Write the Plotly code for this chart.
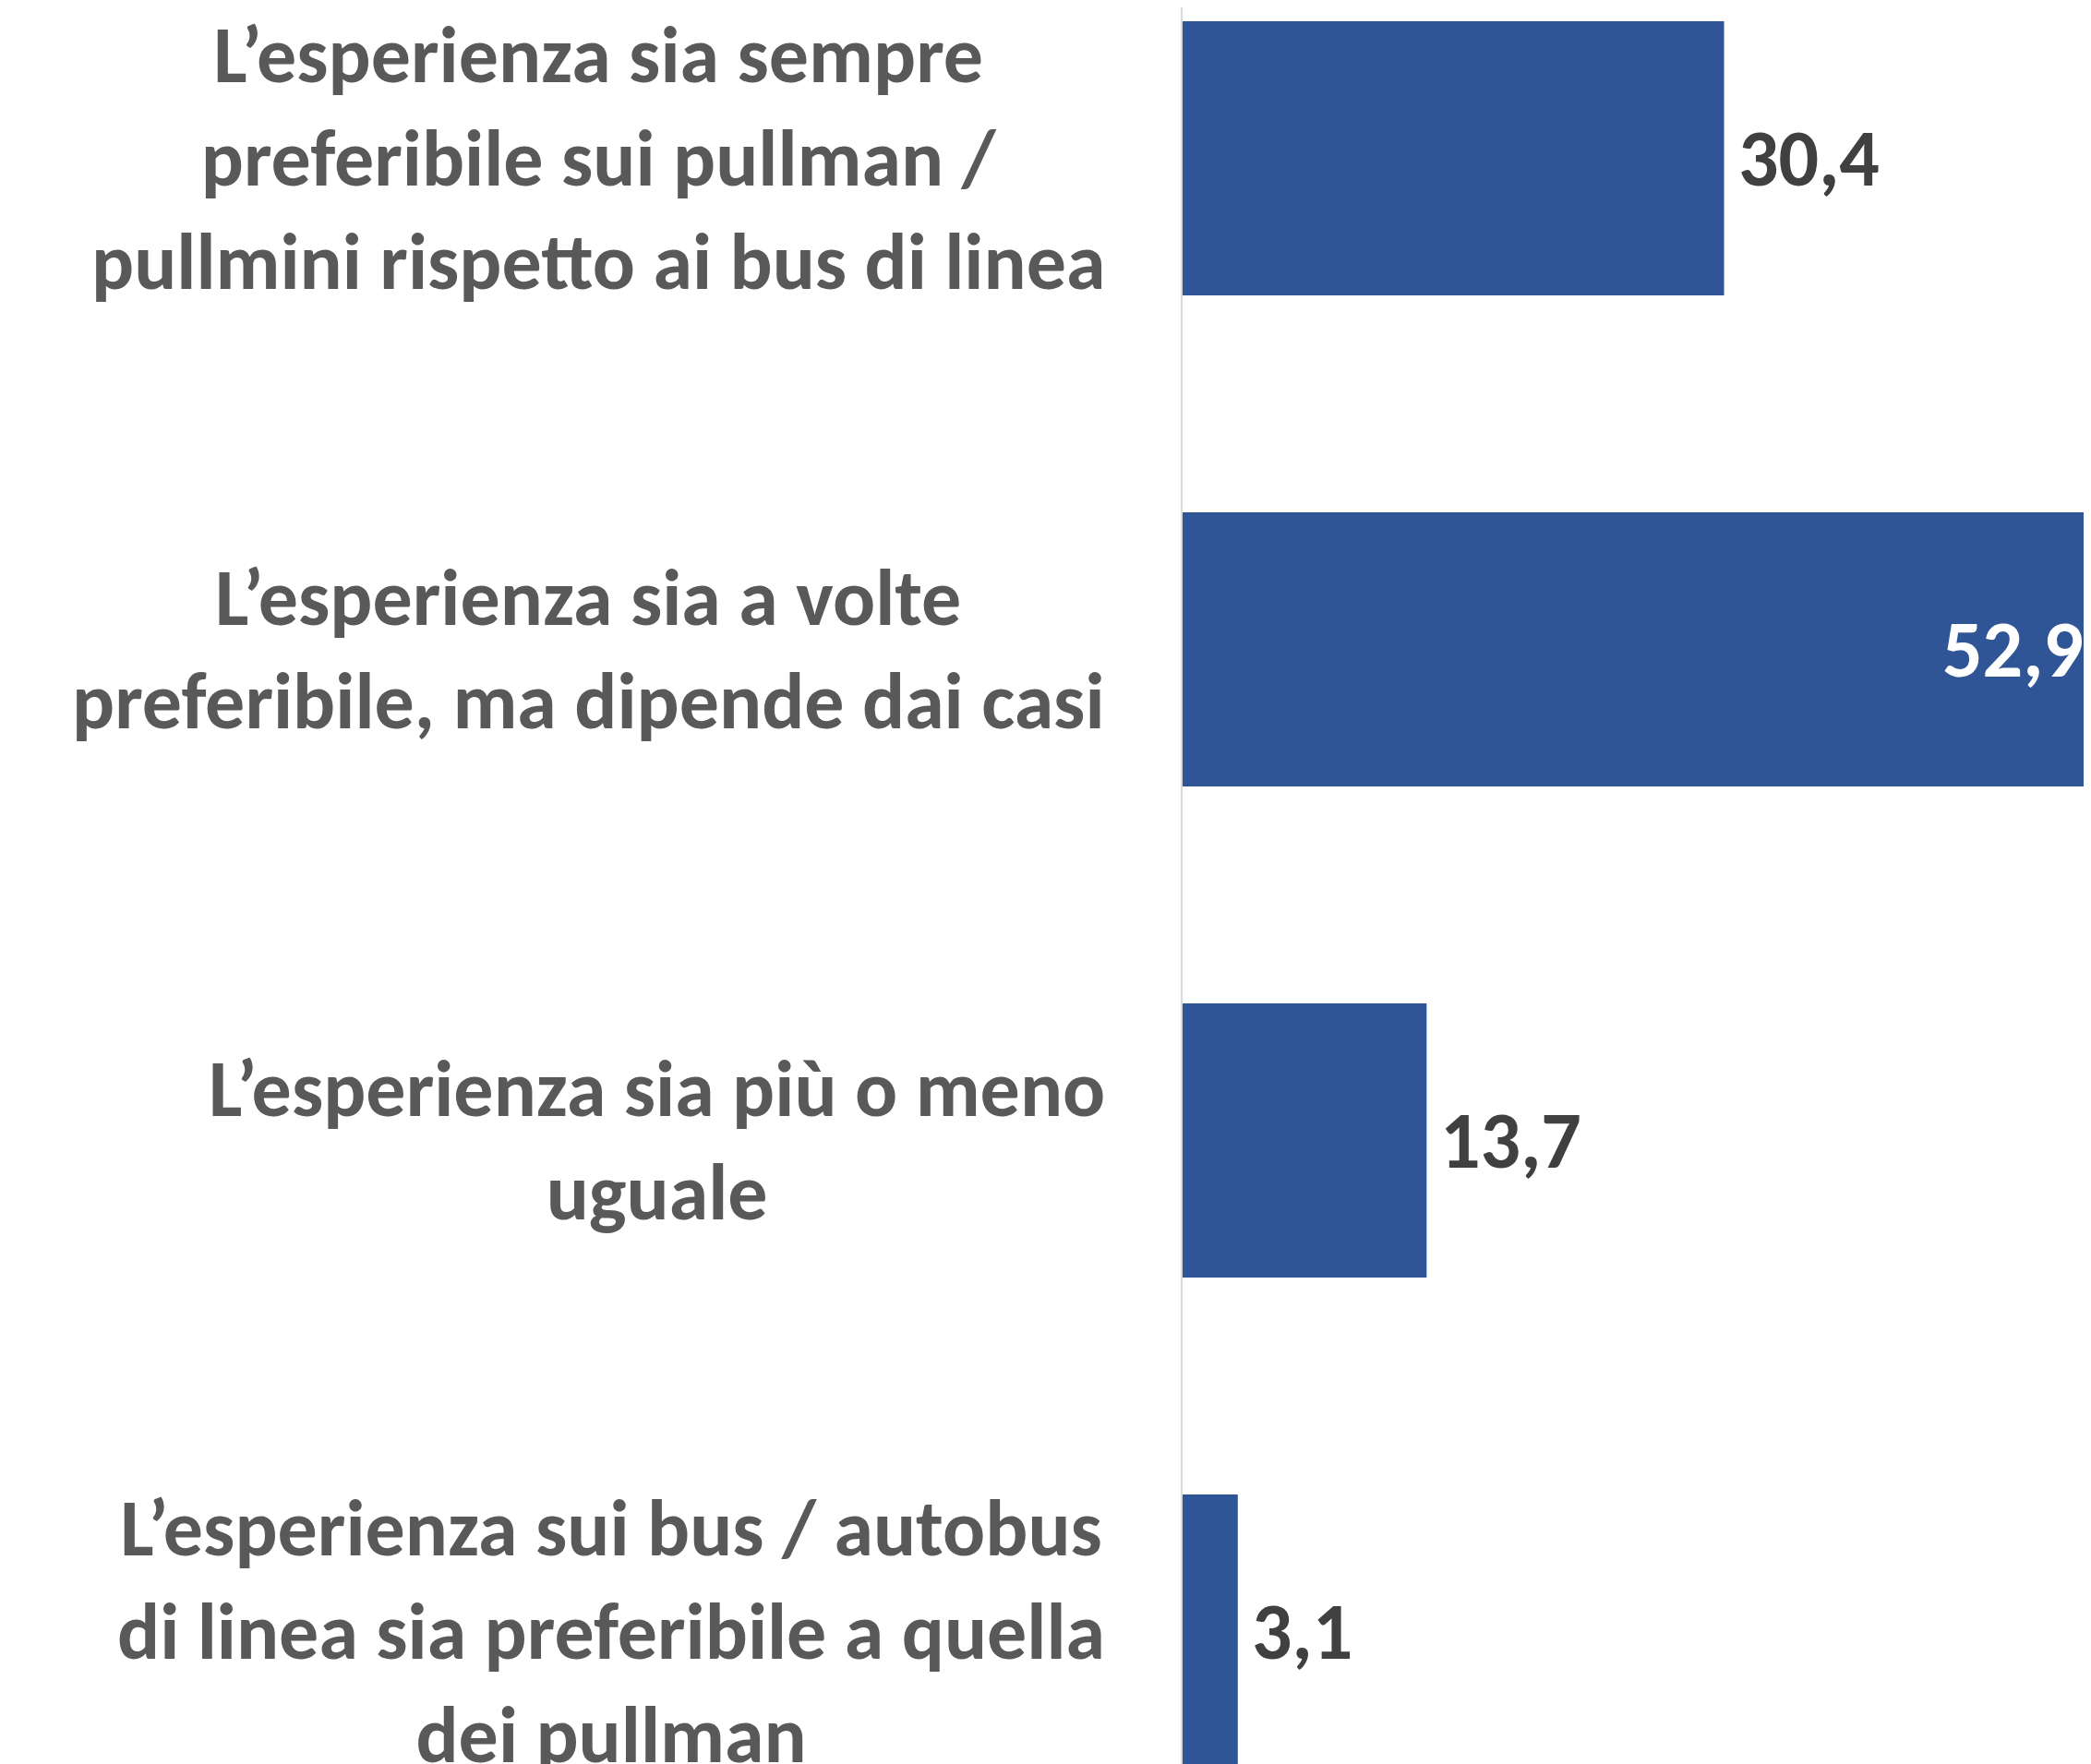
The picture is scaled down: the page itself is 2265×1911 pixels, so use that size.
import plotly.graph_objects as go

# ==================== DATI ====================
categorie = [
    "L’esperienza sia sempre<br>preferibile sui pullman /<br>pullmini rispetto ai bus di linea",
    "L’esperienza sia a volte<br>preferibile, ma dipende dai casi",
    "L’esperienza sia più o meno<br>uguale",
    "L’esperienza sui bus / autobus<br>di linea sia preferibile a quella<br>dei pullman",
]
valori = [30.4, 52.9, 13.7, 3.1]

X_MAX = 51.0  # il grafico originale taglia la barra più lunga
FONT = "Calibri, Carlito, Lato, sans-serif"
BLU = "#2F5597"
SIZE = 86

fig = go.Figure(go.Bar(
    x=valori, y=categorie, orientation="h",
    marker=dict(color=BLU, line=dict(width=0)),
    hoverinfo="skip",
))

# etichette delle categorie (centrate, allineate a destra come blocco)
for cat in categorie:
    fig.add_annotation(
        xref="paper", x=0, y=cat, yref="y",
        text=cat, showarrow=False, xanchor="right", yanchor="middle",
        align="center", xshift=-82,
        font=dict(family=FONT, size=SIZE, color="#595959", weight="bold"),
    )

# etichette dei valori
for cat, v in zip(categorie, valori):
    testo = f"{v:.1f}".replace(".", ",")
    if v > X_MAX:
        fig.add_annotation(xref="paper", x=1, y=cat, yref="y", text=testo,
                           showarrow=False, xanchor="right", xshift=-6,
                           font=dict(family=FONT, size=SIZE, color="white", weight="bold"))
    else:
        fig.add_annotation(x=v, y=cat, text=testo, showarrow=False,
                           xanchor="left", xshift=13,
                           font=dict(family=FONT, size=SIZE, color="#404040", weight="bold"))

# la pagina ha 8px di margine: la figura occupa il resto della finestra
fig.update_layout(
    width=2257, height=1903,
    margin=dict(l=1273, r=0, t=0, b=0),
    plot_bgcolor="white", paper_bgcolor="white",
    bargap=0.442, showlegend=False,
)
fig.update_xaxes(range=[0, X_MAX], visible=False, showgrid=False)
fig.update_yaxes(range=[3.2697, -0.3073], showticklabels=False, ticks="",
                 showgrid=False, showline=True, linecolor="#D9D9D9", linewidth=2)

fig.write_html("out.html")
